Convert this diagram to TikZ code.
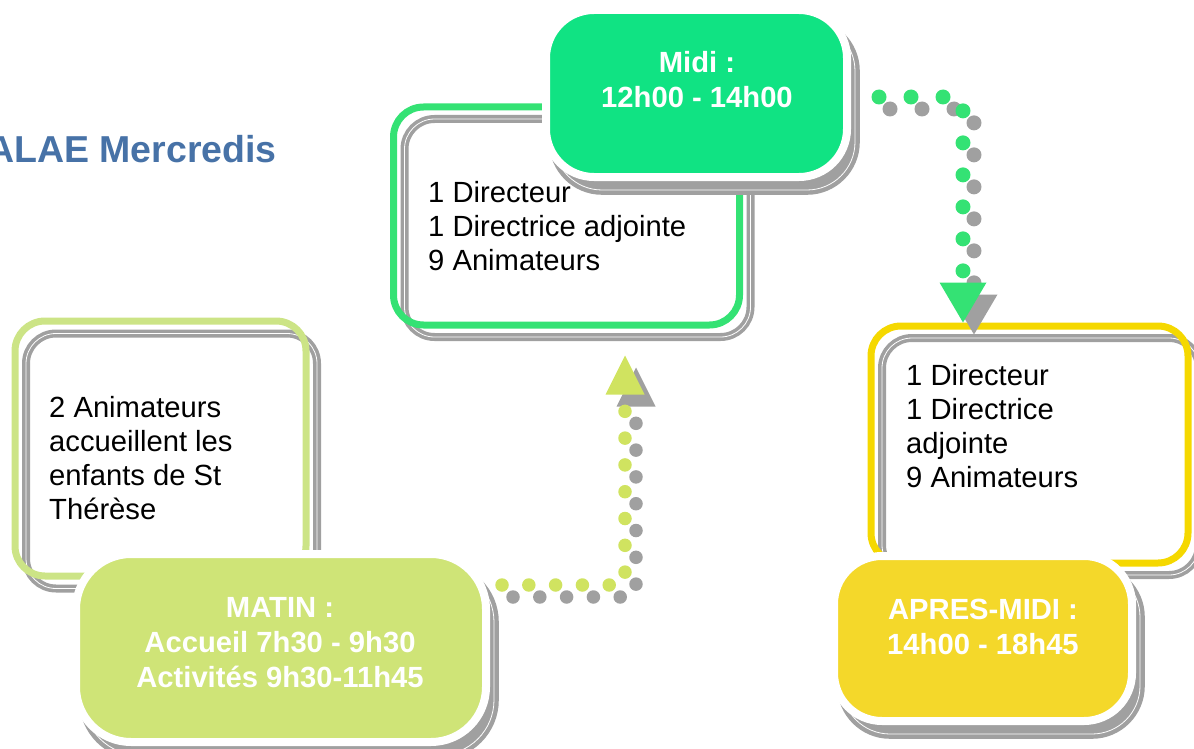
\documentclass[tikz,border=0pt]{standalone}
\usepackage{fontspec}
\setmainfont{Liberation Sans}
\usepackage{xcolor}
\usetikzlibrary{arrows.meta, positioning, shapes}

\definecolor{midigreen}{HTML}{10E383}
\definecolor{greenline}{HTML}{34E274}
\definecolor{limefill}{HTML}{CFE477}
\definecolor{limeline}{HTML}{CCE486}
\definecolor{limedot}{HTML}{D0E360}
\definecolor{yellowfill}{HTML}{F4D82A}
\definecolor{yellowline}{HTML}{F5D800}
\definecolor{shadowgray}{HTML}{A0A0A0}
\definecolor{titleblue}{HTML}{4772A7}

\begin{document}
\begin{tikzpicture}[x=1pt, y=-1pt,
  outline/.style={draw, line width=7pt, rounded corners=30pt, inner sep=0pt},
  grayline/.style={outline, draw=shadowgray, line width=3.6pt, double=white, double distance=0.8pt},
  header/.style={draw=white, line width=8pt, inner sep=0pt},
  headshadow/.style={draw=shadowgray, fill=shadowgray, line width=4.4pt, double=white, double distance=0.8pt, inner sep=0pt},
  bodytext/.style={inner sep=0pt, align=left, anchor=north west, font=\fontsize{29.2pt}{34pt}\selectfont},
  headtext/.style={inner sep=0pt, align=center, anchor=north, text=white, font=\bfseries\fontsize{29.2pt}{35pt}\selectfont},
  dotline/.style={line cap=round, rounded corners=4pt}]
\useasboundingbox (0,0) rectangle (1194,749);

\node[anchor=base east, inner sep=0pt, text=titleblue, font=\bfseries\fontsize{37.5pt}{40pt}\selectfont] (title) at (277,162) {ALAE Mercredis};

% Outline boxes
\node[grayline, minimum width=346pt, minimum height=218pt] at (577.5,228) {};
\node[outline, draw=greenline, minimum width=346pt, minimum height=218pt] (midibox) at (566.5,216) {};
\node[grayline, minimum width=291pt, minimum height=255pt] at (171.5,461) {};
\node[outline, draw=limeline, minimum width=291pt, minimum height=255pt] (matinbox) at (160.5,448.5) {};
\node[grayline, minimum width=317pt, minimum height=237pt] at (1040.5,456.5) {};
\node[outline, draw=yellowline, minimum width=317pt, minimum height=237pt] (apresbox) at (1029.5,444.5) {};

\node[bodytext] (miditext) at (428,181) {1 Directeur\\1 Directrice adjointe\\9 Animateurs};
\node[bodytext] (matintext) at (49,396) {2 Animateurs\\accueillent les\\enfants de St\\Thérèse};
\node[bodytext] (aprestext) at (906,364) {1 Directeur\\1 Directrice\\adjointe\\9 Animateurs};

% Headers
\node[headshadow, rounded corners=48pt, minimum width=301pt, minimum height=167pt] at (704.5,106.5) {};
\node[header, fill=midigreen, rounded corners=48pt, minimum width=301pt, minimum height=167pt] (midihead) at (696.5,93.5) {};
\node[headtext] (midilabel) at (697,51) {Midi :\\12h00 - 14h00};

\node[headshadow, rounded corners=55pt, minimum width=410pt, minimum height=188pt] at (289,661) {};
\node[header, fill=limefill, rounded corners=55pt, minimum width=410pt, minimum height=188pt] (matinhead) at (281,648) {};
\node[headtext] (matinlabel) at (280,597) {MATIN :\\Accueil 7h30 - 9h30\\Activités 9h30-11h45};

\node[headshadow, rounded corners=48pt, minimum width=298pt, minimum height=165pt] at (991,651.5) {};
\node[header, fill=yellowfill, rounded corners=48pt, minimum width=298pt, minimum height=165pt] (apreshead) at (983,638.5) {};
\node[headtext] (apreslabel) at (983,599) {APRES-MIDI :\\14h00 - 18h45};

% Dotted connectors
\coordinate (limestart) at ([xshift=12pt, yshift=63pt]matinhead.east);
\coordinate (limeend) at ([xshift=58.5pt, yshift=-27pt]midibox.south);
\coordinate (greenstart) at ([xshift=28pt, yshift=-3.5pt]midihead.east);
\coordinate (greenend) at ([xshift=-66.5pt]apresbox.north);

\draw[dotline, draw=shadowgray, line width=13.5pt, dash pattern=on 0pt off 26.8pt,
  -{Triangle[width=39pt, length=39pt, line width=0pt]},
  transform canvas={xshift=11pt, yshift=-12pt}] (limestart) -| (limeend);
\draw[dotline, draw=limedot, line width=13.5pt, dash pattern=on 0pt off 26.8pt,
  -{Triangle[width=39pt, length=39pt, line width=0pt]}] (limestart) -| (limeend);

\draw[dotline, draw=shadowgray, line width=15pt, dash pattern=on 0pt off 32pt,
  -{Triangle[width=47pt, length=40pt, line width=0pt]},
  transform canvas={xshift=11pt, yshift=-12pt}] (greenstart) -| (greenend);
\draw[dotline, draw=greenline, line width=15pt, dash pattern=on 0pt off 32pt,
  -{Triangle[width=47pt, length=40pt, line width=0pt]}] (greenstart) -| (greenend);
\end{tikzpicture}
\end{document}
